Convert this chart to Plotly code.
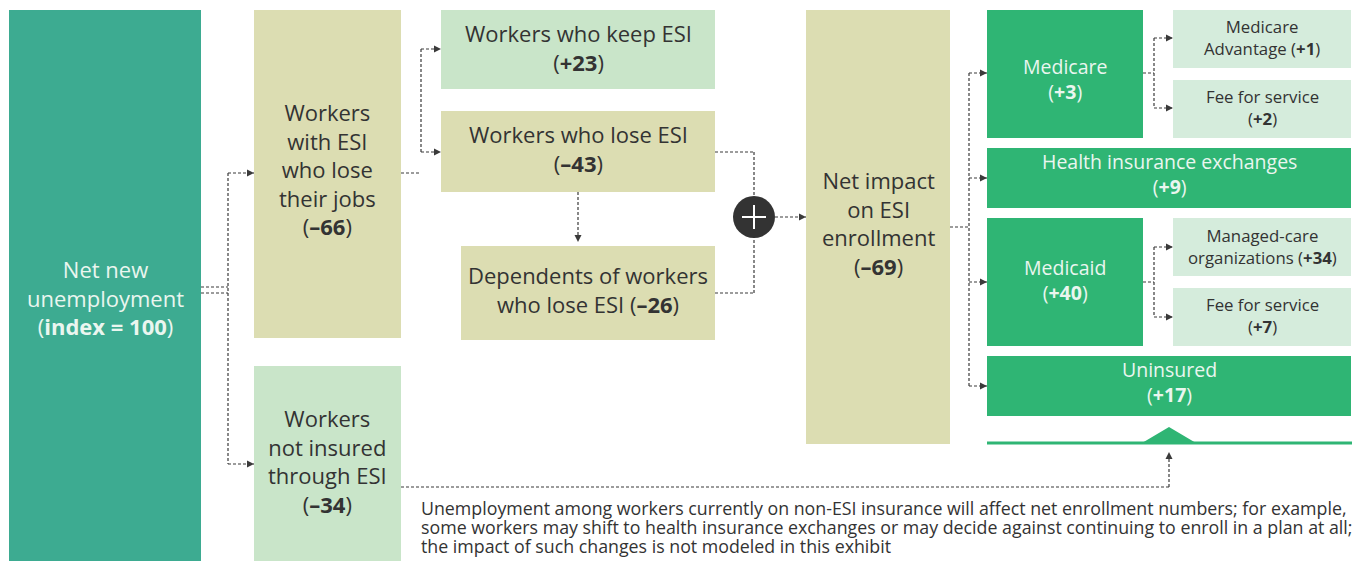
import plotly.graph_objects as go

# Node labels and values (index: net new unemployment = 100)
node_ids = ["unemp", "esi_lose_job", "not_insured", "keep_esi", "lose_esi", "dependents",
            "net_impact", "medicare", "med_adv", "med_ffs", "hix", "medicaid", "mco",
            "mcd_ffs", "uninsured"]
node_names = ["Net new<br>unemployment<br>", "Workers<br>with ESI<br>who lose<br>their jobs<br>",
              "Workers<br>not insured<br>through ESI<br>", "Workers who keep ESI<br>",
              "Workers who lose ESI<br>", "Dependents of workers<br>who lose ESI ",
              "Net impact<br>on ESI<br>enrollment<br>", "Medicare<br>", "Medicare<br>Advantage ",
              "Fee for service<br>", "Health insurance exchanges<br>", "Medicaid<br>",
              "Managed-care<br>organizations ", "Fee for service<br>", "Uninsured<br>"]
node_values = ["index = 100", "–66", "–34", "+23", "–43", "–26", "–69", "+3", "+1", "+2",
               "+9", "+40", "+34", "+7", "+17"]

footnote_lines = [
    "Unemployment among workers currently on non-ESI insurance will affect net enrollment numbers; for example,",
    "some workers may shift to health insurance exchanges or may decide against continuing to enroll in a plan at all;",
    "the impact of such changes is not modeled in this exhibit",
]

# colours
TEAL = "#3dab91"
KHAKI = "#dcddb2"
LIGHT = "#c9e5c9"
GREEN = "#2fb574"
PALE = "#d5ecdc"
DARK = "#333333"
WHITE_TXT = "#eaf6ef"

# box geometry in pixels: x0, y0, x1, y1, fill, text centre y, font size, text colour
layout_pos = {
    "unemp":        (9, 10, 201, 561, TEAL, 297, 22, WHITE_TXT),
    "esi_lose_job": (254, 10, 401, 338, KHAKI, 169, 22, DARK),
    "not_insured":  (254, 366, 401, 561, LIGHT, 461, 22, DARK),
    "keep_esi":     (441, 10, 715, 89, LIGHT, 47, 22, DARK),
    "lose_esi":     (441, 111, 715, 192, KHAKI, 148, 22, DARK),
    "dependents":   (461, 246, 715, 340, KHAKI, 289, 22, DARK),
    "net_impact":   (806, 10, 950, 444, KHAKI, 223, 22, DARK),
    "medicare":     (987, 10, 1143, 138, GREEN, 79, 19.5, WHITE_TXT),
    "med_adv":      (1173, 10, 1351, 68, PALE, 37, 16.8, DARK),
    "med_ffs":      (1173, 80, 1351, 138, PALE, 107, 16.8, DARK),
    "hix":          (987, 148, 1351, 208, GREEN, 174, 19.5, WHITE_TXT),
    "medicaid":     (987, 218, 1143, 346, GREEN, 280, 19.5, WHITE_TXT),
    "mco":          (1173, 218, 1351, 276, PALE, 246, 16.8, DARK),
    "mcd_ffs":      (1173, 288, 1351, 346, PALE, 315, 16.8, DARK),
    "uninsured":    (987, 356, 1351, 416, GREEN, 382, 19.5, WHITE_TXT),
}

FONT = "Open Sans"
LINE = "#3a3a3a"
DOT = "3px,2px"

shapes = []
annotations = []


def dotted(points):
    for (xa, ya), (xb, yb) in zip(points[:-1], points[1:]):
        shapes.append(dict(type="line", x0=xa, y0=ya, x1=xb, y1=yb, xref="x", yref="y",
                           line=dict(color=LINE, width=1.2, dash=DOT)))


def arrow_head(x, y, direction):
    L, W = 7, 3.5
    if direction == "right":
        pts = [(x, y), (x - L, y - W), (x - L, y + W)]
    elif direction == "down":
        pts = [(x, y), (x - W, y - L), (x + W, y - L)]
    else:  # up
        pts = [(x, y), (x - W, y + L), (x + W, y + L)]
    path = "M {} {} L {} {} L {} {} Z".format(*[c for p in pts for c in p])
    shapes.append(dict(type="path", path=path, xref="x", yref="y",
                       fillcolor=LINE, line=dict(width=0)))


def arrow(points, direction):
    dotted(points)
    arrow_head(points[-1][0], points[-1][1], direction)


# boxes and labels
for nid, name, val in zip(node_ids, node_names, node_values):
    x0, y0, x1, y1, fill, ty, fs, tc = layout_pos[nid]
    shapes.append(dict(type="rect", x0=x0, y0=y0, x1=x1, y1=y1, xref="x", yref="y",
                       fillcolor=fill, line=dict(width=0), layer="below"))
    annotations.append(dict(x=(x0 + x1) / 2, y=ty, xref="x", yref="y",
                            text=f"{name}(<b>{val}</b>)", showarrow=False,
                            xanchor="center", yanchor="middle", align="center",
                            font=dict(family=FONT, size=fs, color=tc)))

# connectors
dotted([(201, 287), (228, 287)])
dotted([(201, 293), (228, 293)])
dotted([(228, 173), (228, 464)])
arrow([(228, 173), (254, 173)], "right")
arrow([(228, 464), (254, 464)], "right")

dotted([(401, 173), (421, 173)])
dotted([(421, 49), (421, 152)])
arrow([(421, 49), (441, 49)], "right")
arrow([(421, 152), (441, 152)], "right")

arrow([(578, 192), (578, 242)], "down")
dotted([(715, 152), (754, 152), (754, 196)])
dotted([(715, 293), (754, 293), (754, 238)])
arrow([(775, 217), (806, 217)], "right")

dotted([(950, 227), (969, 227)])
dotted([(969, 73), (969, 386)])
for yy in (73, 178, 282, 386):
    arrow([(969, yy), (987, yy)], "right")

for ym, ya, yb in ((73, 38, 108), (282, 247, 317)):
    dotted([(1143, ym), (1154, ym)])
    dotted([(1154, ya), (1154, yb)])
    arrow([(1154, ya), (1173, ya)], "right")
    arrow([(1154, yb), (1173, yb)], "right")

arrow([(401, 487), (1169, 487), (1169, 452)], "up")

# plus circle
shapes.append(dict(type="circle", x0=733, y0=196, x1=775, y1=238, xref="x", yref="y",
                   fillcolor=DARK, line=dict(width=0)))
shapes.append(dict(type="line", x0=742, y0=217, x1=766, y1=217, xref="x", yref="y",
                   line=dict(color="white", width=2)))
shapes.append(dict(type="line", x0=754, y0=205, x1=754, y1=229, xref="x", yref="y",
                   line=dict(color="white", width=2)))

# green bracket with peak
shapes.append(dict(type="line", x0=987, y0=443, x1=1352, y1=443, xref="x", yref="y",
                   line=dict(color=GREEN, width=3)))
shapes.append(dict(type="path", path="M 1142 443 L 1169 427 L 1196 443 Z", xref="x", yref="y",
                   fillcolor=GREEN, line=dict(width=0)))

# footnote, one annotation per line
for line_text, ly in zip(footnote_lines, (508, 527, 546)):
    annotations.append(dict(x=419, y=ly, xref="x", yref="y", text=line_text, showarrow=False,
                            xanchor="left", yanchor="middle", align="left",
                            font=dict(family=FONT, size=17.8, color=DARK)))

fig = go.Figure()
fig.update_layout(
    width=1359, height=561, autosize=False,
    margin=dict(l=0, r=0, t=0, b=0),
    paper_bgcolor="white", plot_bgcolor="white",
    xaxis=dict(range=[0, 1359], visible=False, fixedrange=True),
    yaxis=dict(range=[561, 0], visible=False, fixedrange=True),
    shapes=shapes, annotations=annotations, showlegend=False,
)
fig.write_html("out.html", config={"displayModeBar": False},
               post_script="document.body.style.margin='0';")
